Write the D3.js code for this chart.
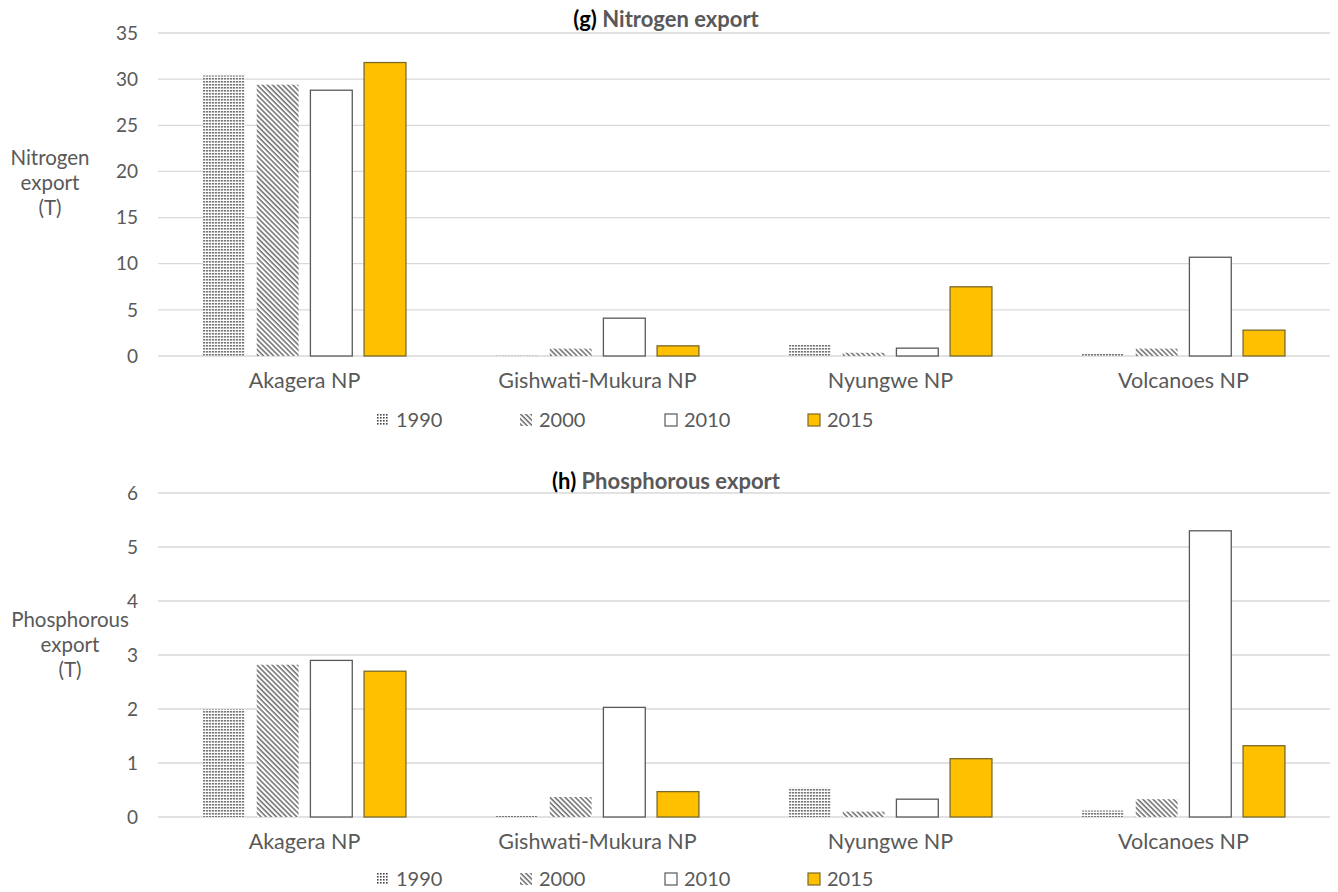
<!DOCTYPE html>
<html>
<head>
<meta charset="utf-8">
<title>Nitrogen and phosphorous export</title>
<style>
  body { margin: 0; background: #fff; }
  svg text { font-family: Lato, "Open Sans", sans-serif; fill: #595959; }
  .grid line { stroke: #d9d9d9; stroke-width: 1.3px; }
</style>
</head>
<body>
<svg width="1338" height="892"></svg>
<script src="https://d3js.org/d3.v7.min.js"></script>
<script>
var parks = ["Akagera NP", "Gishwati-Mukura NP", "Nyungwe NP", "Volcanoes NP"];
var years = ["1990", "2000", "2010", "2015"];

// nitrogen export (T), one array per year, in park order
var nitrogen1990 = [30.4, 0.05, 1.3, 0.3];
var nitrogen2000 = [29.4, 0.8, 0.35, 0.8];
var nitrogen2010 = [28.8, 4.1, 0.85, 10.7];
var nitrogen2015 = [31.8, 1.1, 7.5, 2.8];

// phosphorous export (T)
var phosphorous1990 = [2.0, 0.02, 0.54, 0.12];
var phosphorous2000 = [2.82, 0.37, 0.1, 0.33];
var phosphorous2010 = [2.9, 2.03, 0.33, 5.3];
var phosphorous2015 = [2.7, 0.47, 1.08, 1.32];

var nitrogenTicks = [0, 5, 10, 15, 20, 25, 30, 35];
var phosphorousTicks = [0, 1, 2, 3, 4, 5, 6];

var svg = d3.select("svg");

// fill patterns for the grey years
var defs = svg.append("defs");
var dots = defs.append("pattern")
    .attr("id", "dots")
    .attr("patternUnits", "userSpaceOnUse")
    .attr("width", 3).attr("height", 3);
dots.append("rect").attr("width", 3).attr("height", 3).attr("fill", "#fff");
dots.append("rect").attr("width", 1.6).attr("height", 1.6).attr("fill", "#444");

var hatch = defs.append("pattern")
    .attr("id", "hatch")
    .attr("patternUnits", "userSpaceOnUse")
    .attr("width", 3.6).attr("height", 3.6)
    .attr("patternTransform", "rotate(-45)");
hatch.append("rect").attr("width", 3.6).attr("height", 3.6).attr("fill", "#fff");
hatch.append("line")
    .attr("x1", 1).attr("y1", 0).attr("x2", 1).attr("y2", 3.6)
    .attr("stroke", "#555").attr("stroke-width", 1.3);

var fills = {"1990": "url(#dots)", "2000": "url(#hatch)", "2010": "#fff", "2015": "#ffc000"};
var strokes = {"1990": "none", "2000": "none", "2010": "#595959", "2015": "#7a6a2a"};

function drawPanel(opt) {
    var g = svg.append("g");
    var x0 = d3.scaleBand().domain(parks).range([158, 1330])
        .paddingInner(0.227).paddingOuter(0.1135);
    var x1 = d3.scaleBand().domain(years).range([0, x0.bandwidth()]).padding(0.22);
    var y = d3.scaleLinear().domain([0, opt.max]).range([opt.bottom, opt.top]);

    // gridlines
    g.append("g").attr("class", "grid")
        .selectAll("line").data(opt.ticks).enter().append("line")
        .attr("x1", 158).attr("x2", 1330)
        .attr("y1", d => y(d)).attr("y2", d => y(d));

    // tick labels
    g.append("g").selectAll("text").data(opt.ticks).enter().append("text")
        .attr("x", 138).attr("y", d => y(d)).attr("dy", "0.35em")
        .attr("text-anchor", "end").style("font-size", "19px")
        .text(d => d);

    // bars
    var rows = parks.map(function(p, i) {
        return years.map(function(yr, j) {
            return {park: p, year: yr, value: opt.series[j][i]};
        });
    });
    g.append("g").selectAll("g").data(rows).enter().append("g")
        .attr("transform", d => "translate(" + x0(d[0].park) + ",0)")
        .selectAll("rect").data(d => d).enter().append("rect")
        .attr("x", d => x1(d.year))
        .attr("width", x1.bandwidth())
        .attr("y", d => y(d.value))
        .attr("height", d => opt.bottom - y(d.value))
        .attr("fill", d => fills[d.year])
        .attr("stroke", d => strokes[d.year])
        .attr("stroke-width", 1.3);

    // category labels
    g.append("g").selectAll("text").data(parks).enter().append("text")
        .attr("x", d => x0(d) + x0.bandwidth() / 2)
        .attr("y", opt.bottom + 32)
        .attr("text-anchor", "middle").style("font-size", "21.5px")
        .text(d => d);

    // title
    var t = g.append("text").attr("x", 666).attr("y", opt.titleY)
        .attr("text-anchor", "middle").style("font-size", "22px")
        .style("font-weight", "bold");
    t.append("tspan").style("fill", "#000").text(opt.letter + " ");
    t.append("tspan").text(opt.title);

    // y axis title
    var yt = g.append("text").attr("x", opt.titleX).attr("y", opt.axisY)
        .attr("text-anchor", "middle").style("font-size", "20.5px");
    opt.axisLines.forEach(function(s, i) {
        yt.append("tspan").attr("x", opt.titleX).attr("dy", i ? 25 : 0).text(s);
    });

    // legend
    var legX = [377, 520, 665, 808];
    var leg = g.append("g").selectAll("g").data(years).enter().append("g")
        .attr("transform", (d, i) => "translate(" + legX[i] + "," + opt.legendY + ")");
    leg.append("rect").attr("x", 0).attr("y", -6).attr("width", 12).attr("height", 12)
        .attr("fill", d => fills[d])
        .attr("stroke", d => d === "1990" || d === "2000" ? "none" : strokes[d])
        .attr("stroke-width", 1.2);
    leg.append("text").attr("x", 19).attr("dy", "0.36em")
        .style("font-size", "20px").text(d => d);
}

drawPanel({
    series: [nitrogen1990, nitrogen2000, nitrogen2010, nitrogen2015],
    ticks: nitrogenTicks, max: 35, top: 33, bottom: 356,
    letter: "(g)", title: "Nitrogen export", titleY: 27,
    axisLines: ["Nitrogen", "export", "(T)"], titleX: 50, axisY: 165,
    legendY: 420
});

drawPanel({
    series: [phosphorous1990, phosphorous2000, phosphorous2010, phosphorous2015],
    ticks: phosphorousTicks, max: 6, top: 493, bottom: 817,
    letter: "(h)", title: "Phosphorous export", titleY: 489,
    axisLines: ["Phosphorous", "export", "(T)"], titleX: 70, axisY: 627,
    legendY: 879
});
</script>
</body>
</html>
